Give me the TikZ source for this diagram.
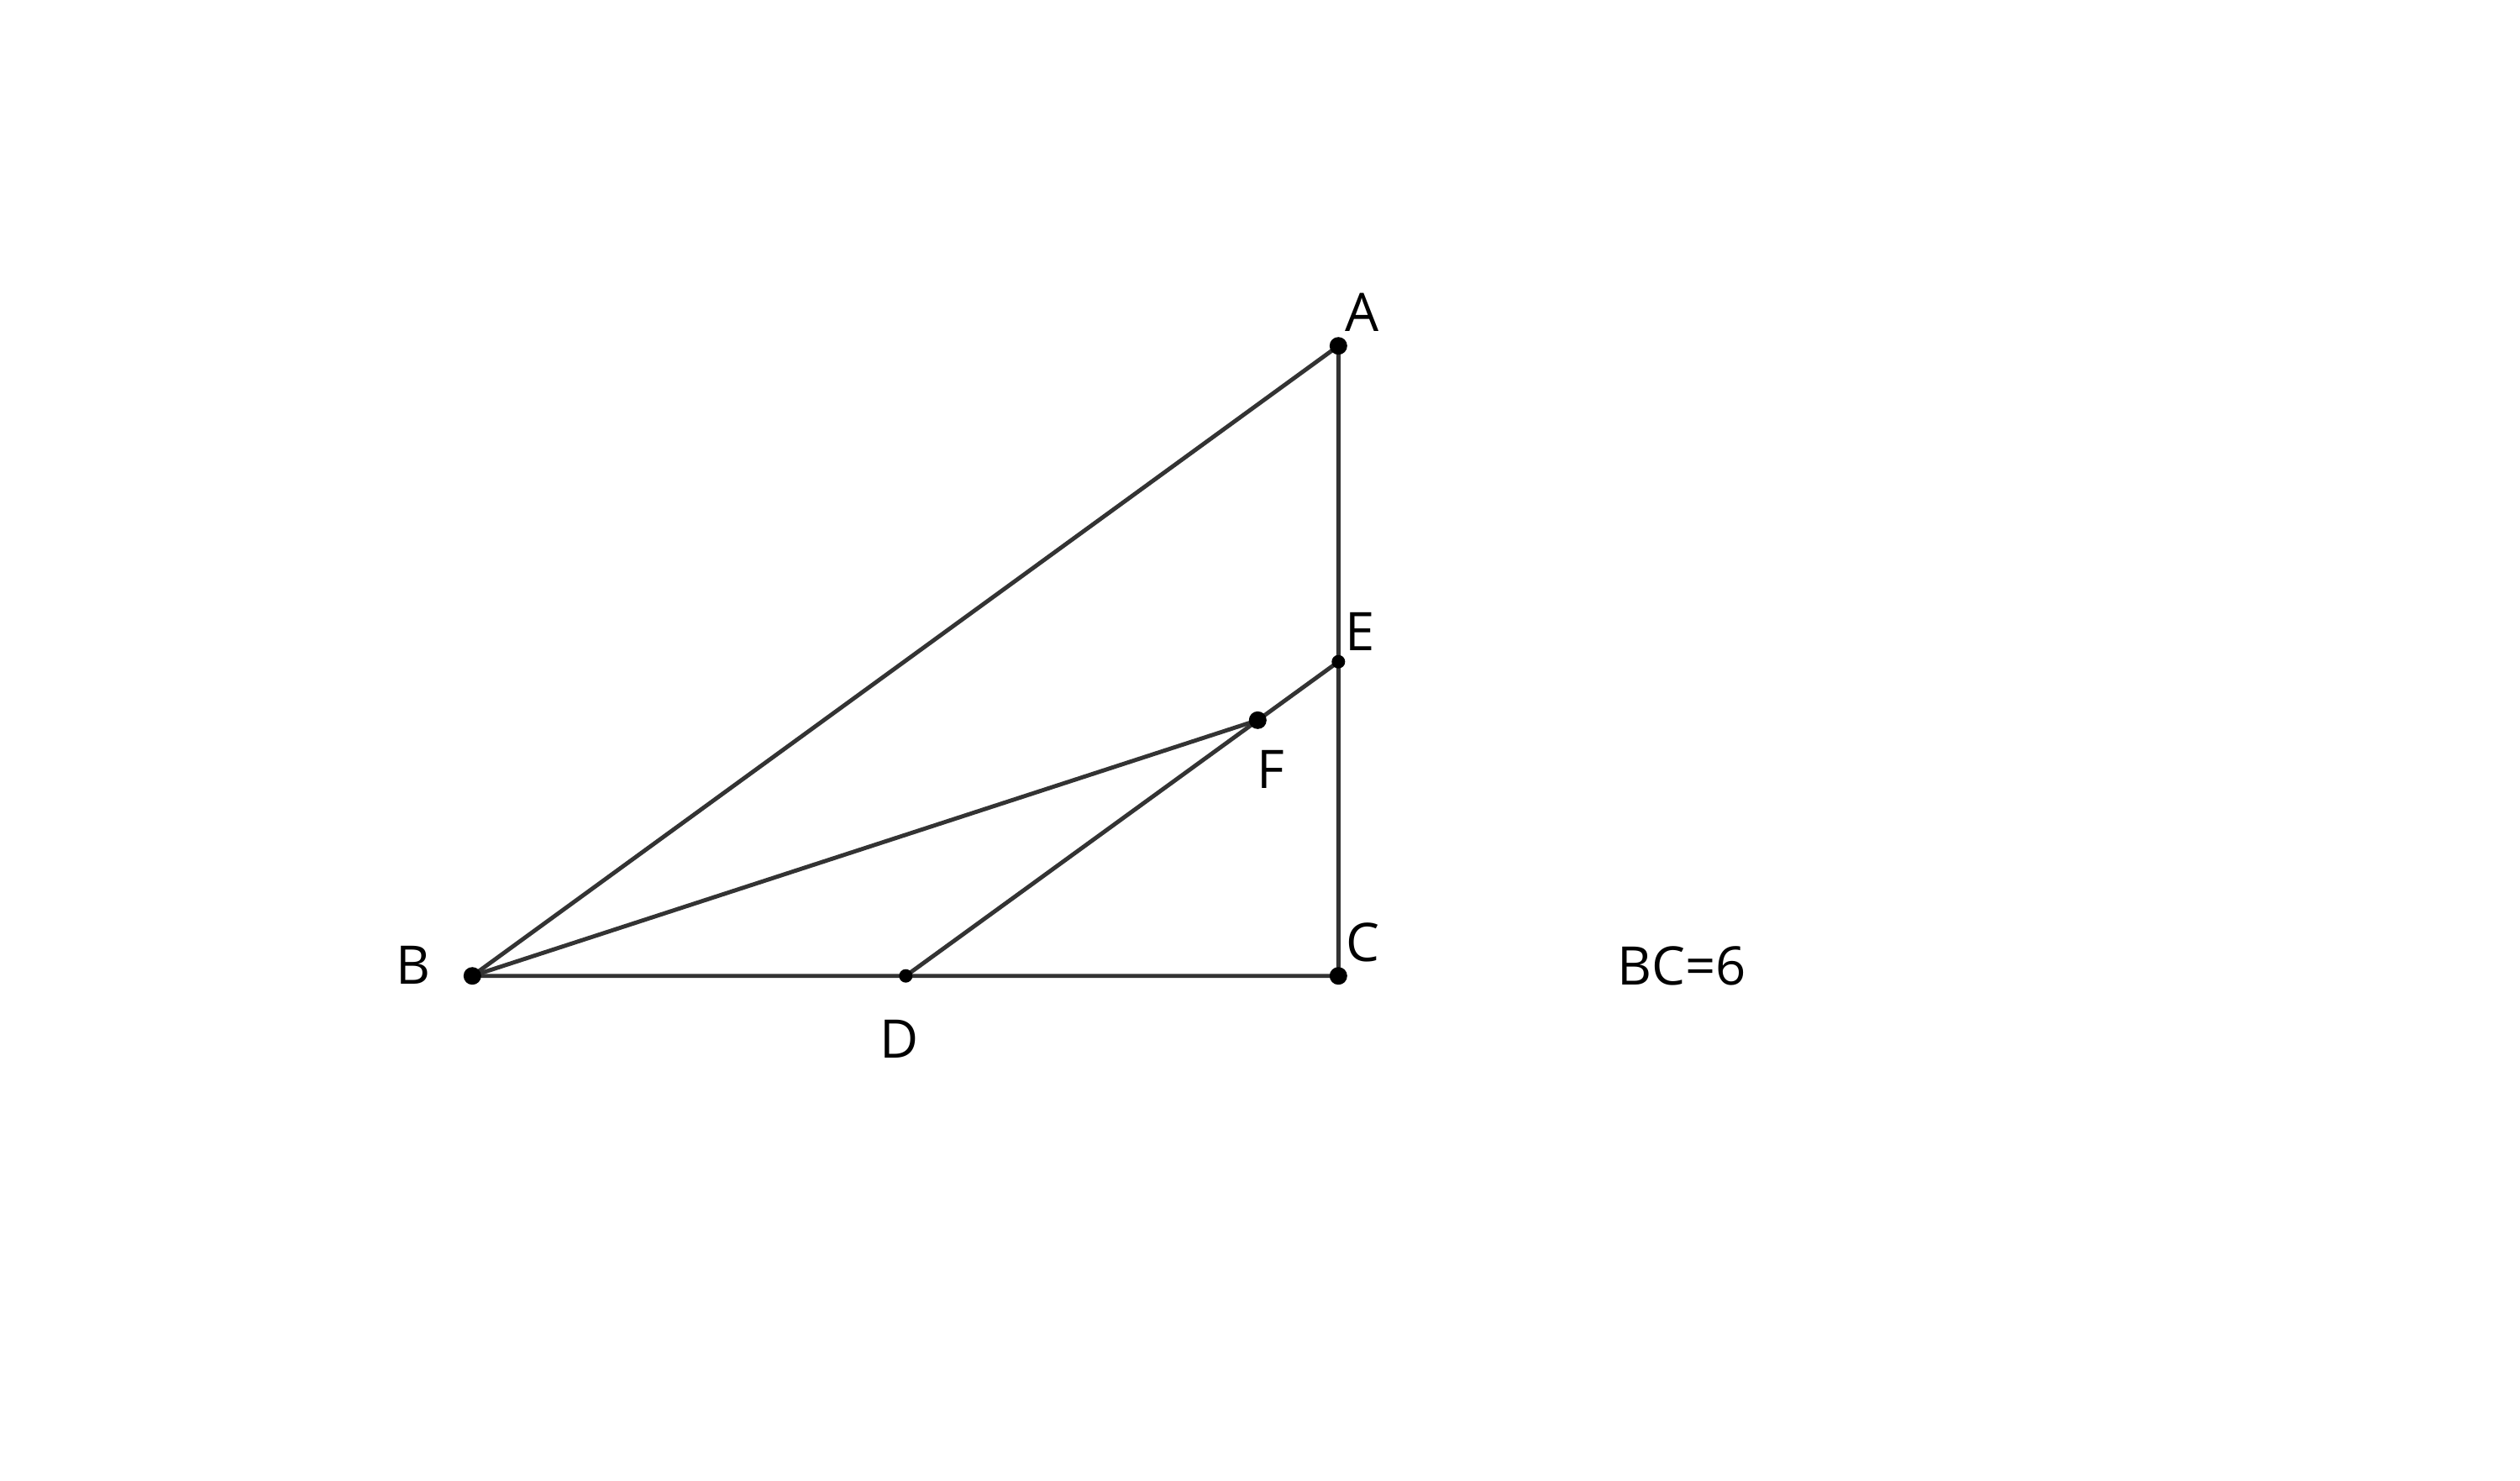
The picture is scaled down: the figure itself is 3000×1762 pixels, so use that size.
\documentclass[tikz,border=0pt]{standalone}
\usepackage{fontspec}
\setmainfont{Open Sans}
\begin{document}
\begin{tikzpicture}[x=0.01cm,y=-0.01cm,
  seg/.style={draw=black!80, line width=1.4pt},
  bigdot/.style={circle, fill=black, inner sep=0pt, minimum size=0.21cm},
  smalldot/.style={circle, fill=black, inner sep=0pt, minimum size=0.16cm},
  lbl/.style={inner sep=0pt, font=\fontsize{18}{21}\selectfont}]
\useasboundingbox (0,0) rectangle (3000,1762);
\coordinate (A) at (1593.3,411.7);
\coordinate (B) at (562.3,1161.7);
\coordinate (C) at (1593.3,1161.7);
\coordinate (D) at (1078.3,1161.7);
\coordinate (E) at (1593.3,787.7);
\coordinate (F) at (1497.3,857.3);
\draw[seg] (B) -- (A) -- (C) -- (B);
\draw[seg] (B) -- (F);
\draw[seg] (D) -- (E);
\node[bigdot] (dA) at (A) {};
\node[bigdot] (dB) at (B) {};
\node[bigdot] (dC) at (C) {};
\node[bigdot] (dF) at (F) {};
\node[smalldot] (dD) at (D) {};
\node[smalldot] (dE) at (E) {};
\node[lbl] (lA) at (1622,372) {A};
\node[lbl] (lE) at (1619,752) {E};
\node[lbl] (lF) at (1513,916) {F};
\node[lbl] (lB) at (492,1149) {B};
\node[lbl] (lD) at (1071,1237) {D};
\node[lbl] (lC) at (1622,1122) {C};
\node[lbl] (lBC) at (2002,1150) {BC=6};
\end{tikzpicture}
\end{document}
